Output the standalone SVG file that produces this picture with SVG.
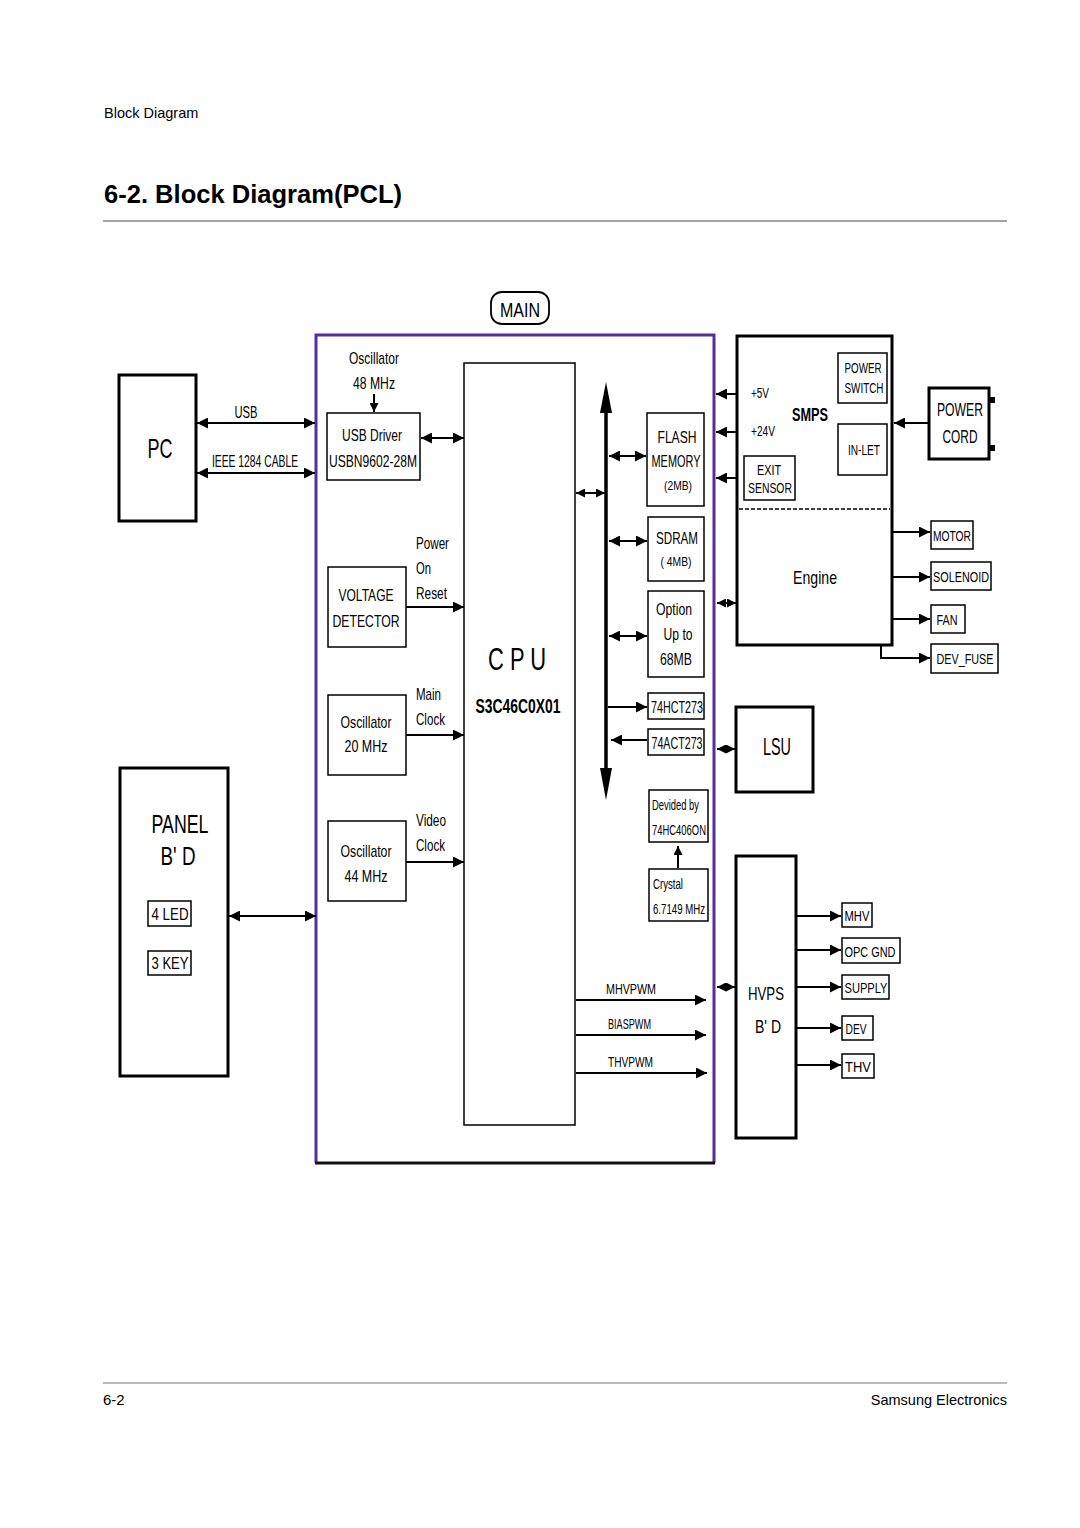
<svg xmlns="http://www.w3.org/2000/svg" width="1080" height="1528" viewBox="0 0 1080 1528">
<style>
.t{font-family:'Liberation Sans',Arial,sans-serif;fill:#000}
.h{font-family:'Liberation Sans',Arial,sans-serif;fill:#000}
.b{fill:#fff;stroke:#000;stroke-width:1.5}
.bk{fill:#fff;stroke:#000;stroke-width:3}
.c{stroke:#000;stroke-width:2;fill:none}
.m{text-anchor:middle}
</style>
<defs>
<marker id="a" viewBox="0 0 10 10" refX="10" refY="5" markerWidth="12" markerHeight="11" markerUnits="userSpaceOnUse" orient="auto-start-reverse"><path d="M0,0L10,5L0,10z" fill="#000"/></marker>
<marker id="s" viewBox="0 0 10 10" refX="10" refY="5" markerWidth="9" markerHeight="9" markerUnits="userSpaceOnUse" orient="auto-start-reverse"><path d="M0,0L10,5L0,10z" fill="#000"/></marker>
</defs>
<rect width="1080" height="1528" fill="#fff"/>
<g id="header">
<text class="h" x="104" y="118" font-size="14.5">Block Diagram</text>
<text class="h" x="104" y="203" font-size="25" font-weight="bold" textLength="298" lengthAdjust="spacingAndGlyphs">6-2. Block Diagram(PCL)</text>
<line x1="103" y1="221" x2="1007" y2="221" stroke="#888" stroke-width="1.5"/>
</g>
<g id="footer">
<line x1="103" y1="1383" x2="1007" y2="1383" stroke="#777" stroke-width="1.2"/>
<text class="h" x="103" y="1405" font-size="15">6-2</text>
<text class="h" x="1007" y="1405" font-size="14.5" text-anchor="end">Samsung Electronics</text>
</g>
<g id="main-label"><rect x="491" y="292" width="58" height="32" rx="11" fill="#fff" stroke="#000" stroke-width="1.8"/><text class="t m" x="520" y="317" font-size="21" textLength="40" lengthAdjust="spacingAndGlyphs">MAIN</text></g>
<g id="main-board"><path d="M316,1163V335H714V1163" fill="none" stroke="#55309a" stroke-width="3"/><line x1="315" y1="1163" x2="715" y2="1163" stroke="#111" stroke-width="3"/></g>
<g id="pc"><rect class="bk" x="119" y="375" width="77" height="146"/><text class="t m" x="160" y="458" font-size="28" textLength="25" lengthAdjust="spacingAndGlyphs">PC</text></g>
<g id="osc48"><text class="t m" x="374" y="364" font-size="17" textLength="50" lengthAdjust="spacingAndGlyphs">Oscillator</text><text class="t m" x="374" y="389" font-size="17" textLength="42" lengthAdjust="spacingAndGlyphs">48 MHz</text></g>
<g id="usb-driver"><rect class="b" x="327" y="413" width="93" height="67"/><text class="t m" x="372" y="441" font-size="16" textLength="60" lengthAdjust="spacingAndGlyphs">USB Driver</text><text class="t m" transform="translate(373,467) scale(0.755,1)" x="0" y="0" font-size="16" textLength="116.5" lengthAdjust="spacingAndGlyphs">USBN9602-28M</text></g>
<g id="cpu"><rect class="b" x="464" y="363" width="111" height="762"/><text class="t m" x="517" y="670" font-size="32" textLength="58" lengthAdjust="spacingAndGlyphs">C P U</text><text class="t m" x="518" y="713" font-size="21" font-weight="bold" textLength="85" lengthAdjust="spacingAndGlyphs">S3C46C0X01</text></g>
<g id="voltage-detector"><rect class="b" x="328" y="567" width="78" height="80"/><text class="t m" x="366" y="601" font-size="17" textLength="55" lengthAdjust="spacingAndGlyphs">VOLTAGE</text><text class="t m" x="366" y="627" font-size="17" textLength="67" lengthAdjust="spacingAndGlyphs">DETECTOR</text></g>
<g id="osc20"><rect class="b" x="328" y="695" width="78" height="80"/><text class="t m" x="366" y="728" font-size="17" textLength="51" lengthAdjust="spacingAndGlyphs">Oscillator</text><text class="t m" x="366" y="752" font-size="17" textLength="43" lengthAdjust="spacingAndGlyphs">20 MHz</text></g>
<g id="osc44"><rect class="b" x="328" y="821" width="78" height="80"/><text class="t m" x="366" y="857" font-size="17" textLength="51" lengthAdjust="spacingAndGlyphs">Oscillator</text><text class="t m" x="366" y="882" font-size="17" textLength="43" lengthAdjust="spacingAndGlyphs">44 MHz</text></g>
<g id="panel"><rect class="bk" x="120" y="768" width="108" height="308"/><text class="t m" x="180" y="833" font-size="26" textLength="57" lengthAdjust="spacingAndGlyphs">PANEL</text><text class="t m" x="178" y="865" font-size="26" textLength="35" lengthAdjust="spacingAndGlyphs">B' D</text>
<rect class="b" x="148" y="901" width="43" height="25"/><text class="t m" x="170" y="920" font-size="16" textLength="37" lengthAdjust="spacingAndGlyphs">4 LED</text>
<rect class="b" x="148" y="951" width="43" height="24"/><text class="t m" x="170" y="969" font-size="16" textLength="37" lengthAdjust="spacingAndGlyphs">3 KEY</text></g>
<g id="flash"><rect class="b" x="647" y="413" width="57" height="93"/><text class="t m" x="677" y="443" font-size="16" textLength="39" lengthAdjust="spacingAndGlyphs">FLASH</text><text class="t m" x="676" y="467" font-size="16" textLength="49" lengthAdjust="spacingAndGlyphs">MEMORY</text><text class="t m" x="678" y="490" font-size="12" textLength="28" lengthAdjust="spacingAndGlyphs">(2MB)</text></g>
<g id="sdram"><rect class="b" x="648" y="517" width="56" height="64"/><text class="t m" x="677" y="544" font-size="17" textLength="42" lengthAdjust="spacingAndGlyphs">SDRAM</text><text class="t m" x="676" y="566" font-size="12" textLength="31" lengthAdjust="spacingAndGlyphs">( 4MB)</text></g>
<g id="option"><rect class="b" x="648" y="591" width="56" height="86"/><text class="t m" x="674" y="615" font-size="17" textLength="36" lengthAdjust="spacingAndGlyphs">Option</text><text class="t m" x="678" y="640" font-size="17" textLength="29" lengthAdjust="spacingAndGlyphs">Up to</text><text class="t m" x="676" y="665" font-size="17" textLength="32" lengthAdjust="spacingAndGlyphs">68MB</text></g>
<g id="hct273"><rect class="b" x="648" y="693" width="56" height="26"/><text class="t m" x="677" y="713" font-size="16" textLength="52" lengthAdjust="spacingAndGlyphs">74HCT273</text></g>
<g id="act273"><rect class="b" x="648" y="729" width="56" height="26"/><text class="t m" x="677" y="749" font-size="16" textLength="51" lengthAdjust="spacingAndGlyphs">74ACT273</text></g>
<g id="divider"><rect class="b" x="649" y="790" width="59" height="52"/><text class="t" x="652" y="810" font-size="15" textLength="47" lengthAdjust="spacingAndGlyphs">Devided by</text><text class="t" x="652" y="835" font-size="15" textLength="54" lengthAdjust="spacingAndGlyphs">74HC406ON</text></g>
<g id="crystal"><rect class="b" x="649" y="869" width="59" height="52"/><text class="t" x="653" y="889" font-size="15" textLength="30" lengthAdjust="spacingAndGlyphs">Crystal</text><text class="t" x="653" y="914" font-size="15" textLength="52" lengthAdjust="spacingAndGlyphs">6.7149 MHz</text></g>
<g id="smps-engine"><rect class="bk" x="737" y="336" width="155" height="309"/><line x1="739" y1="509" x2="890" y2="509" stroke="#000" stroke-width="1.5" stroke-dasharray="4,2"/>
<text class="t" x="751" y="398" font-size="14" textLength="18" lengthAdjust="spacingAndGlyphs">+5V</text><text class="t" x="751" y="436" font-size="14" textLength="24" lengthAdjust="spacingAndGlyphs">+24V</text><text class="t" x="792" y="421" font-size="18" font-weight="bold" textLength="36" lengthAdjust="spacingAndGlyphs">SMPS</text>
<text class="t m" x="815" y="584" font-size="19" textLength="44" lengthAdjust="spacingAndGlyphs">Engine</text></g>
<g id="power-switch"><rect class="b" x="838" y="353" width="49" height="50"/><text class="t m" x="863" y="373" font-size="14" textLength="37" lengthAdjust="spacingAndGlyphs">POWER</text><text class="t m" x="864" y="393" font-size="14" textLength="39" lengthAdjust="spacingAndGlyphs">SWITCH</text></g>
<g id="in-let"><rect class="b" x="838" y="424" width="49" height="51"/><text class="t m" x="864" y="455" font-size="14" textLength="32" lengthAdjust="spacingAndGlyphs">IN-LET</text></g>
<g id="exit-sensor"><rect class="b" x="744" y="456" width="51" height="44"/><text class="t m" x="769" y="475" font-size="15" textLength="24" lengthAdjust="spacingAndGlyphs">EXIT</text><text class="t m" x="770" y="493" font-size="15" textLength="44" lengthAdjust="spacingAndGlyphs">SENSOR</text></g>
<g id="power-cord"><rect class="bk" x="929" y="388" width="60" height="71"/><rect x="989" y="397" width="6" height="6" fill="#000"/><rect x="989" y="445" width="6" height="6" fill="#000"/><text class="t m" x="960" y="416" font-size="18" textLength="46" lengthAdjust="spacingAndGlyphs">POWER</text><text class="t m" x="960" y="443" font-size="18" textLength="35" lengthAdjust="spacingAndGlyphs">CORD</text></g>
<g id="motor"><rect class="b" x="931" y="521" width="42" height="28"/><text class="t m" x="952" y="541" font-size="15" textLength="38" lengthAdjust="spacingAndGlyphs">MOTOR</text></g>
<g id="solenoid"><rect class="b" x="931" y="562" width="60" height="28"/><text class="t m" x="961" y="582" font-size="15" textLength="56" lengthAdjust="spacingAndGlyphs">SOLENOID</text></g>
<g id="fan"><rect class="b" x="931" y="605" width="34" height="28"/><text class="t m" x="947" y="625" font-size="15" textLength="21" lengthAdjust="spacingAndGlyphs">FAN</text></g>
<g id="dev-fuse"><rect class="b" x="931" y="644" width="67" height="29"/><text class="t m" x="965" y="664" font-size="15" textLength="57" lengthAdjust="spacingAndGlyphs">DEV_FUSE</text></g>
<g id="lsu"><rect class="bk" x="736" y="707" width="77" height="85"/><text class="t m" x="777" y="755" font-size="24" textLength="28" lengthAdjust="spacingAndGlyphs">LSU</text></g>
<g id="hvps"><rect class="bk" x="736" y="856" width="60" height="282"/><text class="t m" x="766" y="1000" font-size="18" textLength="36" lengthAdjust="spacingAndGlyphs">HVPS</text><text class="t m" x="768" y="1033" font-size="18" textLength="26" lengthAdjust="spacingAndGlyphs">B' D</text></g>
<g id="mhv"><rect class="b" x="842" y="903" width="30" height="24"/><text class="t m" x="857" y="921" font-size="15" textLength="25" lengthAdjust="spacingAndGlyphs">MHV</text></g>
<g id="opc-gnd"><rect class="b" x="842" y="938" width="58" height="25"/><text class="t m" x="870" y="957" font-size="15" textLength="51" lengthAdjust="spacingAndGlyphs">OPC GND</text></g>
<g id="supply"><rect class="b" x="842" y="975" width="47" height="24"/><text class="t m" x="866" y="993" font-size="15" textLength="43" lengthAdjust="spacingAndGlyphs">SUPPLY</text></g>
<g id="dev"><rect class="b" x="842" y="1016" width="31" height="24"/><text class="t m" x="856" y="1034" font-size="15" textLength="21" lengthAdjust="spacingAndGlyphs">DEV</text></g>
<g id="thv"><rect class="b" x="842" y="1054" width="32" height="24"/><text class="t m" x="858" y="1072" font-size="15" textLength="26" lengthAdjust="spacingAndGlyphs">THV</text></g>
<g id="connectors">
<line class="c" x1="197" y1="423" x2="315" y2="423" marker-start="url(#a)" marker-end="url(#a)"/>
<text class="t m" x="246" y="418" font-size="16" textLength="23" lengthAdjust="spacingAndGlyphs">USB</text>
<line class="c" x1="197" y1="473" x2="315" y2="473" marker-start="url(#a)" marker-end="url(#a)"/>
<text class="t m" transform="translate(255,467) scale(0.624,1)" x="0" y="0" font-size="16" textLength="138" lengthAdjust="spacingAndGlyphs">IEEE 1284  CABLE</text>
<line class="c" x1="374" y1="394" x2="374" y2="412" marker-end="url(#s)"/>
<line class="c" x1="421" y1="438" x2="464" y2="438" marker-start="url(#a)" marker-end="url(#a)"/>
<line class="c" x1="406" y1="607" x2="464" y2="607" marker-end="url(#a)"/>
<text class="t" x="416" y="549" font-size="17" textLength="33" lengthAdjust="spacingAndGlyphs">Power</text><text class="t" x="416" y="574" font-size="17" textLength="15" lengthAdjust="spacingAndGlyphs">On</text><text class="t" x="416" y="599" font-size="17" textLength="31" lengthAdjust="spacingAndGlyphs">Reset</text>
<line class="c" x1="406" y1="735" x2="464" y2="735" marker-end="url(#a)"/>
<text class="t" x="416" y="700" font-size="17" textLength="25" lengthAdjust="spacingAndGlyphs">Main</text><text class="t" x="416" y="725" font-size="17" textLength="29" lengthAdjust="spacingAndGlyphs">Clock</text>
<line class="c" x1="406" y1="862" x2="464" y2="862" marker-end="url(#a)"/>
<text class="t" x="416" y="826" font-size="17" textLength="30" lengthAdjust="spacingAndGlyphs">Video</text><text class="t" x="416" y="851" font-size="17" textLength="29" lengthAdjust="spacingAndGlyphs">Clock</text>
<line class="c" x1="229" y1="916" x2="316" y2="916" marker-start="url(#a)" marker-end="url(#a)"/>
<line x1="606" y1="410" x2="606" y2="772" stroke="#000" stroke-width="3.5"/>
<polygon points="606,382 600,413 612,413" fill="#000"/>
<polygon points="606,800 600,768 612,768" fill="#000"/>
<line class="c" x1="576" y1="493" x2="605" y2="493" stroke-width="2.5" marker-start="url(#s)" marker-end="url(#s)"/>
<line class="c" x1="609" y1="456" x2="646" y2="456" stroke-width="3" marker-start="url(#a)" marker-end="url(#a)"/>
<line class="c" x1="609" y1="541" x2="647" y2="541" stroke-width="3" marker-start="url(#a)" marker-end="url(#a)"/>
<line class="c" x1="609" y1="636" x2="647" y2="636" stroke-width="3" marker-start="url(#a)" marker-end="url(#a)"/>
<line class="c" x1="608" y1="707" x2="647" y2="707" stroke-width="3" marker-end="url(#a)"/>
<line class="c" x1="647" y1="740" x2="611" y2="740" stroke-width="3" marker-end="url(#a)"/>
<line class="c" x1="678" y1="868" x2="678" y2="846" stroke-width="2.5" marker-end="url(#s)"/>
<line class="c" x1="576" y1="1000" x2="706" y2="1000" marker-end="url(#a)"/>
<text class="t" x="606" y="994" font-size="14" textLength="50" lengthAdjust="spacingAndGlyphs">MHVPWM</text>
<line class="c" x1="576" y1="1035" x2="706" y2="1035" marker-end="url(#a)"/>
<text class="t" x="608" y="1029" font-size="14" textLength="43" lengthAdjust="spacingAndGlyphs">BIASPWM</text>
<line class="c" x1="576" y1="1073" x2="707" y2="1073" marker-end="url(#a)"/>
<text class="t" x="608" y="1067" font-size="15" textLength="45" lengthAdjust="spacingAndGlyphs">THVPWM</text>
<line class="c" x1="736" y1="394" x2="716" y2="394" marker-end="url(#a)"/>
<line class="c" x1="736" y1="432" x2="716" y2="432" marker-end="url(#a)"/>
<line class="c" x1="736" y1="478" x2="716" y2="478" marker-end="url(#a)"/>
<line class="c" x1="928" y1="423" x2="894" y2="423" marker-end="url(#a)"/>
<line class="c" x1="717" y1="603" x2="736" y2="603" stroke-width="2.5" marker-start="url(#s)" marker-end="url(#s)"/>
<line class="c" x1="893" y1="532" x2="930" y2="532" marker-end="url(#a)"/>
<line class="c" x1="893" y1="577" x2="930" y2="577" marker-end="url(#a)"/>
<line class="c" x1="893" y1="619" x2="930" y2="619" marker-end="url(#a)"/>
<polyline class="c" points="881,646 881,658 930,658" stroke-width="1.5" marker-end="url(#a)"/>
<line class="c" x1="717" y1="749" x2="735" y2="749" stroke-width="2.5" marker-start="url(#s)" marker-end="url(#s)"/>
<line class="c" x1="717" y1="987" x2="735" y2="987" stroke-width="2.5" marker-start="url(#s)" marker-end="url(#s)"/>
<line class="c" x1="797" y1="916" x2="841" y2="916" marker-end="url(#a)"/>
<line class="c" x1="797" y1="950" x2="841" y2="950" marker-end="url(#a)"/>
<line class="c" x1="797" y1="987" x2="841" y2="987" marker-end="url(#a)"/>
<line class="c" x1="797" y1="1028" x2="841" y2="1028" marker-end="url(#a)"/>
<line class="c" x1="797" y1="1065" x2="841" y2="1065" marker-end="url(#a)"/>
</g>
</svg>
